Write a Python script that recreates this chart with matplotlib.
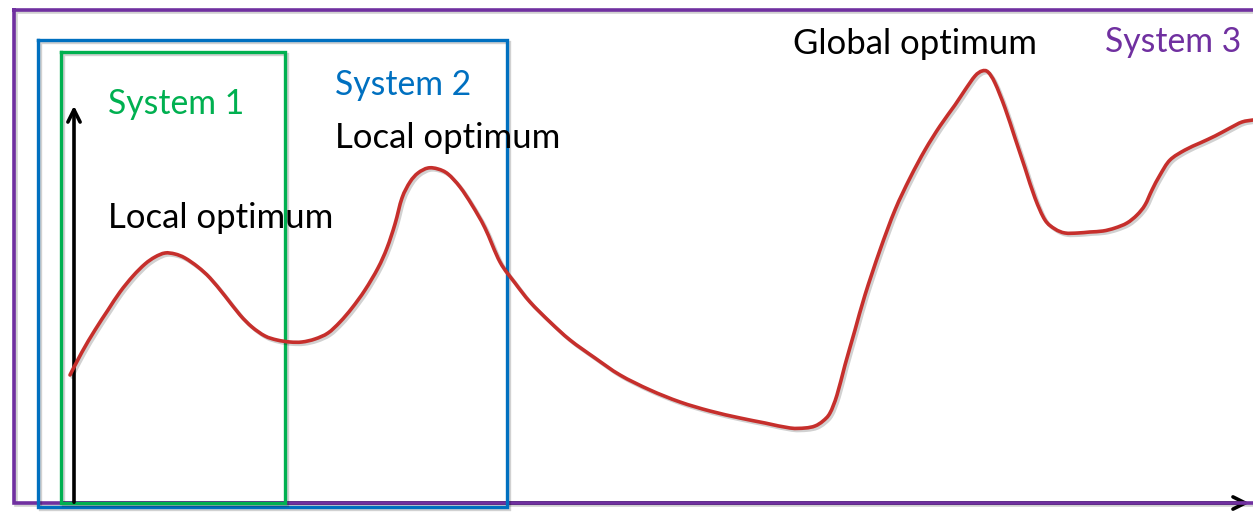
import matplotlib
matplotlib.use("Agg")
import matplotlib.pyplot as plt
import matplotlib.patheffects as pe
from matplotlib.path import Path
from matplotlib.patches import PathPatch

# Curve (landscape), in picture pixel coordinates
curve_x = [70, 82, 95, 108, 120, 133, 145, 155, 165, 175, 185, 198, 210, 225, 240, 252, 265, 277, 290, 302,
           315, 328, 340, 352, 365, 378, 387, 395, 402, 410, 418, 428, 438, 448, 460, 472, 485, 500, 515, 530,
           550, 570, 595, 620, 650, 680, 710, 740, 765, 790, 805, 815, 823, 830, 837, 845, 855, 865, 880, 895,
           910, 925, 940, 955, 965, 975, 982, 988, 995, 1005, 1015, 1025, 1035, 1045, 1055, 1065, 1078, 1090, 1103,
           1115, 1127, 1137, 1145, 1152, 1160, 1170, 1185, 1200, 1215, 1230, 1242, 1253]
curve_y = [375, 352, 330, 310, 292, 276, 264, 257, 253, 254, 258, 267, 278, 296, 315, 327, 336, 340, 342, 342,
           339, 333, 322, 308, 290, 268, 248, 224, 198, 182, 173, 168, 169, 174, 187, 205, 228, 262, 283, 302,
           322, 340, 358, 375, 390, 402, 411, 418, 423, 428, 428, 426, 421, 413, 395, 365, 330, 295, 250, 210,
           178, 150, 126, 105, 90, 76, 71, 72, 83, 108, 138, 168, 198, 220, 229, 233, 233, 232, 231,
           228, 223, 215, 205, 190, 175, 160, 150, 143, 136, 128, 122, 120]

# Boxes (x0, y0, x1, y1) in picture pixels
box_system3 = (14, 10, 1260, 503)
box_system2 = (38, 40, 507, 507)
box_system1 = (61, 52, 285, 503)

labels = ["System 1", "System 2", "System 3"]
label_pos = [(108, 104), (335, 85), (1105, 42)]
label_colors = ["#00B050", "#0070C0", "#7030A0"]

annotations = ["Local optimum", "Local optimum", "Global optimum"]
annot_pos = [(108, 218), (335, 138), (793, 44)]

W, H = 1253, 516
fig = plt.figure(figsize=(W / 100, H / 100), dpi=100)
ax = fig.add_axes([0, 0, 1, 1])
ax.set_xlim(0, W)
ax.set_ylim(H, 0)
ax.axis("off")

font = "Lato"
shadow = [pe.SimpleLineShadow(offset=(1.5, -1.5), alpha=0.18, shadow_color="black"), pe.Normal()]

def rect(b, color, lw):
    x0, y0, x1, y1 = b
    ax.plot([x0, x1, x1, x0, x0], [y0, y0, y1, y1, y0], color=color, lw=lw,
            solid_joinstyle="miter", zorder=2, path_effects=shadow)

# Axes arrows
ax.annotate("", xy=(74, 103), xytext=(74, 505),
            arrowprops=dict(arrowstyle="->", color="black", lw=2.6, mutation_scale=22), zorder=3)
ax.annotate("", xy=(1252, 503), xytext=(60, 503),
            arrowprops=dict(arrowstyle="->", color="black", lw=2.6, mutation_scale=22), zorder=1)

rect(box_system3, "#7030A0", 2.6)
rect(box_system2, "#0070C0", 2.4)
rect(box_system1, "#00B050", 2.4)

# Smooth drawing of the curve through the read points (Catmull-Rom -> cubic Bezier)
pts = list(zip(curve_x, curve_y))
verts = [pts[0]]
codes = [Path.MOVETO]
for i in range(len(pts) - 1):
    p0 = pts[i - 1] if i > 0 else pts[i]
    p1 = pts[i]
    p2 = pts[i + 1]
    p3 = pts[i + 2] if i + 2 < len(pts) else pts[i + 1]
    c1 = (p1[0] + (p2[0] - p0[0]) / 6, p1[1] + (p2[1] - p0[1]) / 6)
    c2 = (p2[0] - (p3[0] - p1[0]) / 6, p2[1] - (p3[1] - p1[1]) / 6)
    verts += [c1, c2, p2]
    codes += [Path.CURVE4] * 3
ax.add_patch(PathPatch(Path(verts, codes), facecolor="none", edgecolor="#C62F2C", lw=2.6,
                       capstyle="round", zorder=4, path_effects=shadow))

for t, (x, y), c in zip(labels, label_pos, label_colors):
    ax.text(x, y, t, color=c, fontsize=24.3, family=font, ha="left", va="center", zorder=5)
for t, (x, y) in zip(annotations, annot_pos):
    ax.text(x, y, t, color="black", fontsize=25, family=font, ha="left", va="center", zorder=5)

fig.savefig("out.png", dpi=100, facecolor="white")
